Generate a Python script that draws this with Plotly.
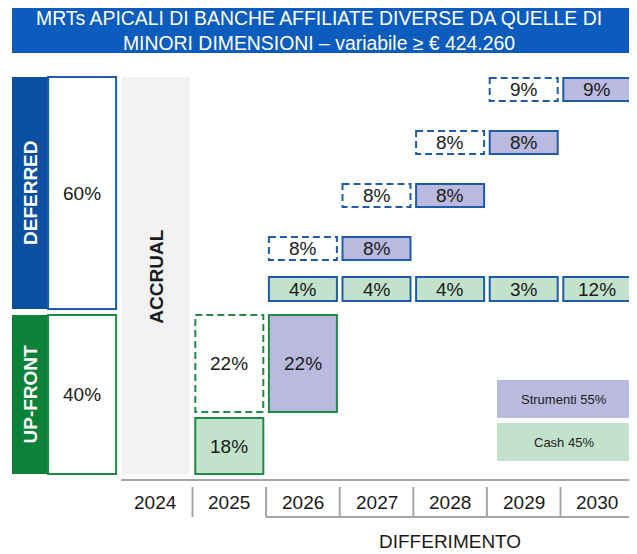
import plotly.graph_objects as go

# ---------------- data ----------------
years = [2024, 2025, 2026, 2027, 2028, 2029, 2030]
deferred_cash_years = [2026, 2027, 2028, 2029, 2030]
deferred_cash = [4, 4, 4, 3, 12]
deferred_instr_accrual_years = [2026, 2027, 2028, 2029]   # dashed (accrual) box, paid next year
deferred_instr = [8, 8, 8, 9]
upfront_year = 2025
upfront_instr = 22
upfront_cash = 18
share_labels = ["DEFERRED", "UP-FRONT"]
share_values = [60, 40]
legend_labels = ["Strumenti", "Cash"]
legend_values = [55, 45]
title_text = "MRTs APICALI DI BANCHE AFFILIATE DIVERSE DA QUELLE DI<br>MINORI DIMENSIONI – variabile ≥ € 424.260"
axis_title = "DIFFERIMENTO"
accrual_label = "ACCRUAL"

# ---------------- layout constants (page pixels) ----------------
W, H = 637, 554
OFF = 8                           # default body margin of the html page
X0_PX, PITCH = 155.7, 73.6        # pixel centre of first column and column pitch
HALF = 34 / PITCH                 # half box width in column units
FONT = "Liberation Sans, Arial, sans-serif"
FS = 19
DASH = "7px,4px"

BLUE_TITLE = "#0B5CBD"
BLUE_DARK = "#0A4FA0"
BLUE_LINE = "#1E5BAA"
GREEN_DARK = "#0B8139"
GREEN_LINE = "#1F8B47"
GREEN_FILL = "#C3E2CC"
PURPLE_FILL = "#BABAE0"
GREY = "#F2F2F2"
TXT = "#1a1a1a"


def col(year):
    return years.index(year)


def px(p):
    """column-unit coordinate of a page pixel x"""
    return (p - X0_PX) / PITCH


fig = go.Figure()
fig.add_trace(go.Scatter(x=[], y=[], showlegend=False))

shapes = []
annos = []


def box(xc, y0, y1, text, line_color, fill, dash="solid", size=FS, hw=HALF, lw=2):
    shapes.append(dict(type="rect", xref="x", yref="y", x0=xc - hw, x1=xc + hw, y0=y0, y1=y1,
                       line=dict(color=line_color, width=lw, dash=dash), fillcolor=fill, layer="above"))
    if text:
        annos.append(dict(x=xc, y=(y0 + y1) / 2, xref="x", yref="y", text=text, showarrow=False,
                          font=dict(family=FONT, size=size, color=TXT)))


# title band
shapes.append(dict(type="rect", xref="x", yref="y", x0=px(12), x1=px(632),
                   y0=7, y1=53, line=dict(width=0), fillcolor=BLUE_TITLE))
annos.append(dict(x=px(319), y=30, xref="x", yref="y", text=title_text, showarrow=False,
                  align="center", font=dict(family=FONT, size=19.4, color="white")))

# left panel: deferred / up-front shares
panel_rows = [(77, 309, BLUE_DARK, BLUE_LINE), (315, 474, GREEN_DARK, GREEN_LINE)]
for lab, val, (t, b, dark, line) in zip(share_labels, share_values, panel_rows):
    xl0, xl1 = px(12), px(48)
    shapes.append(dict(type="rect", xref="x", yref="y", x0=xl0, x1=xl1, y0=t, y1=b,
                       line=dict(width=0), fillcolor=dark))
    annos.append(dict(x=(xl0 + xl1) / 2, y=(t + b) / 2, xref="x", yref="y", text=f"<b>{lab}</b>",
                      showarrow=False, textangle=-90, font=dict(family=FONT, size=19, color="white")))
    box(-1, t, b, f"{val}%", line, "white")

# accrual column
shapes.append(dict(type="rect", xref="x", yref="y", x0=-HALF, x1=HALF, y0=77, y1=474,
                   line=dict(width=0), fillcolor=GREY, layer="below"))
annos.append(dict(x=0, y=277, xref="x", yref="y", text=f"<b>{accrual_label}</b>", showarrow=False,
                  textangle=-90, font=dict(family=FONT, size=19, color=TXT)))

# up-front boxes
uc = col(upfront_year)
box(uc, 315, 412, f"{upfront_instr}%", GREEN_LINE, "white", dash=DASH)
box(uc + 1, 315, 412, f"{upfront_instr}%", GREEN_LINE, PURPLE_FILL)
box(uc, 418, 474, f"{upfront_cash}%", GREEN_LINE, GREEN_FILL)

# deferred cash row
for y, v in zip(deferred_cash_years, deferred_cash):
    box(col(y), 277, 301, f"{v}%", BLUE_LINE, GREEN_FILL)

# deferred instrument rows (staircase)
ROW0_TOP, ROW_PITCH, ROW_H = 237, 53, 23
for k, (y, v) in enumerate(zip(deferred_instr_accrual_years, deferred_instr)):
    top = ROW0_TOP - k * ROW_PITCH
    box(col(y), top, top + ROW_H, f"{v}%", BLUE_LINE, "white", dash=DASH)
    box(col(y) + 1, top, top + ROW_H, f"{v}%", BLUE_LINE, PURPLE_FILL)

# legend boxes
lx0, lx1 = px(497), px(631)
for lab, val, fill, (t, b) in zip(legend_labels, legend_values, [PURPLE_FILL, GREEN_FILL],
                                  [(380, 418), (423, 461)]):
    shapes.append(dict(type="rect", xref="x", yref="y", x0=lx0, x1=lx1, y0=t, y1=b,
                       line=dict(width=0), fillcolor=fill))
    annos.append(dict(x=(lx0 + lx1) / 2, y=(t + b) / 2, xref="x", yref="y", text=f"{lab} {val}%",
                      showarrow=False, font=dict(family=FONT, size=13, color=TXT)))

# bottom category axis
AX_GREY = "#A6A6A6"
last = len(years) - 1
shapes.append(dict(type="line", xref="x", yref="y", x0=px(121), x1=last + 0.5,
                   y0=480, y1=480, line=dict(color=AX_GREY, width=2)))
for i in range(len(years)):
    annos.append(dict(x=i, y=502, xref="x", yref="y", text=str(years[i]), showarrow=False,
                      font=dict(family=FONT, size=FS, color=TXT)))
    shapes.append(dict(type="line", xref="x", yref="y", x0=i + 0.5, x1=i + 0.5, y0=487, y1=517,
                       line=dict(color=AX_GREY, width=2)))
first_def = col(deferred_cash_years[0])
shapes.append(dict(type="line", xref="x", yref="y", x0=first_def - 0.5, x1=last + 0.5, y0=517, y1=517,
                   line=dict(color=AX_GREY, width=2)))
annos.append(dict(x=(first_def - 0.5 + last + 0.5) / 2, y=541, xref="x", yref="y", text=axis_title,
                  showarrow=False, font=dict(family=FONT, size=FS, color=TXT)))

fig.update_layout(
    width=W - OFF, height=H - OFF, margin=dict(l=0, r=0, t=0, b=0),
    paper_bgcolor="white", plot_bgcolor="white",
    xaxis=dict(range=[px(OFF), px(W)], visible=False, fixedrange=True),
    yaxis=dict(range=[H, OFF], visible=False, fixedrange=True),
    shapes=shapes, annotations=annos, showlegend=False,
)

fig.write_html("out.html")
